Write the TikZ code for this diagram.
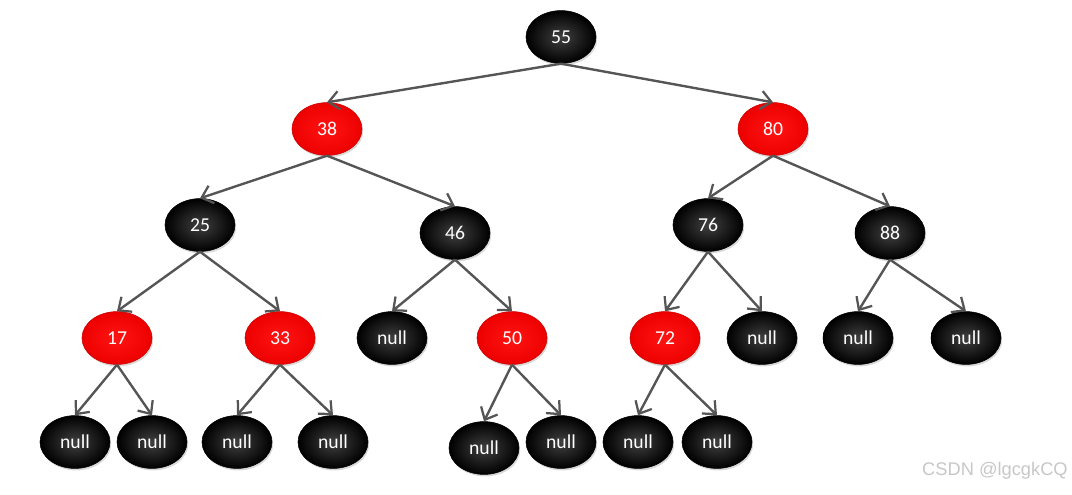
\documentclass[tikz,border=0pt]{standalone}
\usepackage{fontspec}
\setmainfont{Carlito}
\newfontfamily\wmfont{Liberation Sans}
\usetikzlibrary{arrows.meta,shadows,shapes.geometric}
\definecolor{edgegray}{HTML}{555555}
\tikzset{
  rbnode/.style={ellipse, minimum width=1.75cm, minimum height=1.32cm, inner sep=0pt,
    font=\fontsize{14}{16}\selectfont, text=white,
    drop shadow={shadow xshift=0.03cm, shadow yshift=-0.05cm, opacity=0.3}},
  blacknode/.style={rbnode, draw=black, line width=0.4pt, inner color=black!75, outer color=black, shading=radial},
  rednode/.style={rbnode, draw={rgb,1:red,0.8;green,0;blue,0}, line width=0.4pt, inner color={rgb,1:red,1;green,0.08;blue,0.08}, outer color={rgb,1:red,0.93;green,0;blue,0}, shading=radial},
  edge/.style={draw=edgegray, line width=1.7pt, -{Straight Barb[length=2.6mm,width=4.6mm,line width=1.6pt]}}
}
\begin{document}
\begin{tikzpicture}[x=0.025cm,y=-0.025cm]
\useasboundingbox (0,0) rectangle (1072,494);
\node[blacknode] (n55) at (561,37) {55};
\node[rednode] (n38) at (327,129) {38};
\node[rednode] (n80) at (773,129) {80};
\node[blacknode] (n25) at (200,225) {25};
\node[blacknode] (n46) at (455,233) {46};
\node[blacknode] (n76) at (708,225) {76};
\node[blacknode] (n88) at (890,233) {88};
\node[rednode] (n17) at (117,338) {17};
\node[rednode] (n33) at (280,338) {33};
\node[blacknode] (n46l) at (392,338) {null};
\node[rednode] (n50) at (512,338) {50};
\node[rednode] (n72) at (665,338) {72};
\node[blacknode] (n76r) at (762,338) {null};
\node[blacknode] (n88l) at (858,338) {null};
\node[blacknode] (n88r) at (966,338) {null};
\node[blacknode] (n17l) at (75,442) {null};
\node[blacknode] (n17r) at (152,442) {null};
\node[blacknode] (n33l) at (237,442) {null};
\node[blacknode] (n33r) at (333,442) {null};
\node[blacknode] (n50l) at (484,448) {null};
\node[blacknode] (n50r) at (561,442) {null};
\node[blacknode] (n72l) at (638,442) {null};
\node[blacknode] (n72r) at (717,442) {null};
\foreach \p/\c in {n55/n38,n55/n80,n38/n25,n38/n46,n80/n76,n80/n88,
  n25/n17,n25/n33,n46/n46l,n46/n50,n76/n72,n76/n76r,n88/n88l,n88/n88r,
  n17/n17l,n17/n17r,n33/n33l,n33/n33r,n50/n50l,n50/n50r,n72/n72l,n72/n72r}
  \draw[edge] (\p.south) -- (\c.north);
\node[anchor=east, text=black!22, font=\wmfont\fontsize{13}{15}\selectfont, inner sep=0pt] (wm) at (1068,471) {CSDN @lgcgkCQ};
\end{tikzpicture}
\end{document}
